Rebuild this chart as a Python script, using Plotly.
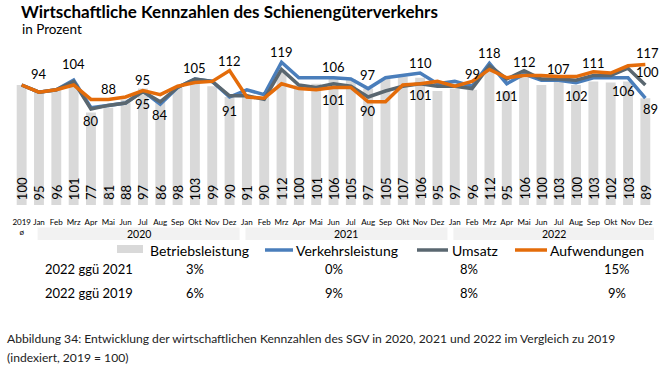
import plotly.graph_objects as go

# ---------------- data ----------------
months = ["Jan", "Feb", "Mrz", "Apr", "Mai", "Jun", "Jul", "Aug", "Sep", "Okt", "Nov", "Dez"]
tick_labels = ["2019<br>ø"] + months * 3
years = ["2020", "2021", "2022"]

betriebsleistung = [100,
                    95, 96, 101, 77, 81, 88, 97, 86, 98, 103, 99, 90,
                    91, 90, 112, 100, 101, 106, 105, 97, 105, 107, 106, 95,
                    97, 96, 112, 95, 106, 100, 103, 100, 103, 102, 103, 89]

verkehrsleistung = [100,
                    94, 96, 104, 81, 83, 85, 95, 84, 98, 105, 103, 90,
                    96, 92, 119, 106, 106, 106, 105, 97, 106, 108, 110, 101,
                    103, 99, 118, 101, 109, 104, 104, 102, 106, 106, 106, 89]

umsatz = [100,
          94, 96, 103, 80, 83, 85, 94.6, 86, 98, 105, 103, 91,
          91, 88, 113, 100, 98, 101, 99, 90, 95, 99, 101, 99,
          99, 97, 116, 105, 112, 105, 105, 104, 108, 108, 114, 100]

aufwendungen = [100,
                94, 96, 100, 88, 88, 90, 95.4, 92, 99, 102, 103, 112,
                90, 89, 101, 97, 96, 98, 98, 86, 86, 100, 101, 103,
                99, 103, 113, 106, 108, 108, 107, 107, 111, 110, 116, 117]

series_names = ["Betriebsleistung", "Verkehrsleistung", "Umsatz", "Aufwendungen"]
row_labels = ["2022 ggü 2021", "2022 ggü 2019"]
row_2022_vs_2021 = ["3%", "0%", "8%", "15%"]
row_2022_vs_2019 = ["6%", "9%", "8%", "9%"]

title = "Wirtschaftliche Kennzahlen des Schienengüterverkehrs"
subtitle = "in Prozent"
caption1 = "Abbildung 34: Entwicklung der wirtschaftlichen Kennzahlen des SGV in 2020, 2021 und 2022 im Vergleich zu 2019"
caption2 = "(indexiert, 2019 = 100)"

# labelled line points: (series, index, pixel offset: negative = above, positive = below, xshift)
line_labels = [
    ("V", 1, -18, 0), ("V", 3, -16, 0), ("U", 4, 12, 0), ("A", 5, -10, 0),
    ("A", 7, -11, 0), ("U", 7, 13, 0), ("V", 8, 11, 0), ("U", 10, -11, 0),
    ("A", 12, -10, 0), ("U", 12, 15, 0), ("V", 15, -10, 0), ("V", 18, -11, 0),
    ("U", 18, 16, 0), ("V", 20, -14, 0), ("U", 20, 14, 0), ("V", 23, -10, 0),
    ("U", 23, 11, 0), ("V", 26, -12, 0), ("V", 27, -10, 0), ("V", 28, 12, 0),
    ("U", 29, -9, 0), ("A", 31, -8, 0), ("V", 32, 13, 0), ("A", 33, -9, 0),
    ("V", 35, 13, -5), ("A", 36, -12, 2), ("U", 36, -13, 2), ("V", 36, 11, 5),
]

# ---------------- styles ----------------
FONT = "Lato, 'Open Sans', sans-serif"
C_BAR = "#D9D9D9"
C_BLUE = "#4A7EBB"
C_GRAY = "#5A6770"
C_ORANGE = "#E46C0A"
LW = 3.5

W, H = 666, 372
ML, MR, MT, MB = 13, 12, 37, 167
PW, PH = W - ML - MR, H - MT - MB


def xp(px):
    return (px - ML) / PW


def yp(py):
    return (H - MB - py) / PH


x = list(range(len(tick_labels)))
series = {"V": verkehrsleistung, "U": umsatz, "A": aufwendungen}

fig = go.Figure()
fig.add_trace(go.Bar(x=x, y=betriebsleistung, name=series_names[0], marker_color=C_BAR,
                     marker_line_width=0, hoverinfo="skip"))
fig.add_trace(go.Scatter(x=x, y=verkehrsleistung, name=series_names[1], mode="lines",
                         line=dict(color=C_BLUE, width=LW)))
fig.add_trace(go.Scatter(x=x, y=umsatz, name=series_names[2], mode="lines",
                         line=dict(color=C_GRAY, width=LW)))
fig.add_trace(go.Scatter(x=x, y=aufwendungen, name=series_names[3], mode="lines",
                         line=dict(color=C_ORANGE, width=LW)))

ann = []
# bar value labels (rotated, at the bar base)
for i, v in enumerate(betriebsleistung):
    ann.append(dict(x=i, y=0, xref="x", yref="y", text=str(v), showarrow=False,
                    textangle=-90, yanchor="bottom", xanchor="center", yshift=3,
                    font=dict(family=FONT, size=13, color="#000")))
# line labels
for key, i, off, xs in line_labels:
    v = series[key][i]
    ann.append(dict(x=i, y=v, xref="x", yref="y", text=str(round(v)), showarrow=False,
                    yanchor="middle", xanchor="center",
                    yshift=-off, xshift=xs, font=dict(family=FONT, size=13, color="#000")))

shapes = []
# year group bands
for k, yr in enumerate(years):
    a = 1 + 12 * k
    b = a + 11
    x0b, x1b = a - 0.08, b + 0.58
    shapes.append(dict(type="rect", xref="x", yref="paper", x0=x0b, x1=x1b,
                       y0=yp(240), y1=yp(227.5), fillcolor="#F2F2F2", line_width=0, layer="below"))
    ann.append(dict(x=(x0b + x1b) / 2, y=yp(234), xref="x", yref="paper", text=yr, showarrow=False,
                    xanchor="center", yanchor="middle",
                    font=dict(family=FONT, size=10.5, color="#000")))

# legend (manual)
LY = 250
shapes.append(dict(type="rect", xref="paper", yref="paper", x0=xp(117), x1=xp(143),
                   y0=yp(253), y1=yp(245), fillcolor=C_BAR, line_width=0))
for (x0, x1, col) in [(265, 293, C_BLUE), (417, 448, C_GRAY), (515, 547, C_ORANGE)]:
    shapes.append(dict(type="line", xref="paper", yref="paper", x0=xp(x0), x1=xp(x1),
                       y0=yp(LY), y1=yp(LY), line=dict(color=col, width=LW)))
for name, px in zip(series_names, [148, 294, 450, 548]):
    ann.append(dict(x=xp(px), y=yp(LY), xref="paper", yref="paper", text=name, showarrow=False,
                    xanchor="left", yanchor="middle", font=dict(family=FONT, size=14, color="#000")))

# table
col_x = [195, 334, 469, 617]
for row_y, lab, vals in [(269, row_labels[0], row_2022_vs_2021), (293, row_labels[1], row_2022_vs_2019)]:
    ann.append(dict(x=xp(43), y=yp(row_y), xref="paper", yref="paper", text=lab, showarrow=False,
                    xanchor="left", yanchor="middle", font=dict(family=FONT, size=13, color="#000")))
    for cx, val in zip(col_x, vals):
        ann.append(dict(x=xp(cx), y=yp(row_y), xref="paper", yref="paper", text=val, showarrow=False,
                        xanchor="center", yanchor="middle", font=dict(family=FONT, size=13, color="#000")))

# title, subtitle, caption
ann.append(dict(x=xp(19), y=yp(11), xref="paper", yref="paper", text="<b>" + title + "</b>",
                showarrow=False, xanchor="left", yanchor="middle",
                font=dict(family=FONT, size=17, color="#000")))
ann.append(dict(x=xp(20), y=yp(29), xref="paper", yref="paper", text=subtitle,
                showarrow=False, xanchor="left", yanchor="middle",
                font=dict(family=FONT, size=13.5, color="#000")))
ann.append(dict(x=xp(5), y=yp(338), xref="paper", yref="paper", text=caption1,
                showarrow=False, xanchor="left", yanchor="middle",
                font=dict(family=FONT, size=12.1, color="#222")))
ann.append(dict(x=xp(5), y=yp(357), xref="paper", yref="paper", text=caption2,
                showarrow=False, xanchor="left", yanchor="middle",
                font=dict(family=FONT, size=12.1, color="#222")))

fig.update_layout(
    width=W, height=H,
    margin=dict(l=ML, r=MR, t=MT, b=MB, pad=0),
    paper_bgcolor="white", plot_bgcolor="white",
    showlegend=False,
    bargap=0.43,
    font=dict(family=FONT, color="#000"),
    xaxis=dict(range=[-0.5, len(x) - 0.5], tickmode="array", tickvals=x, ticktext=tick_labels,
               tickangle=0, tickfont=dict(family=FONT, size=8, color="#000"),
               ticks="outside", ticklen=9, tickcolor="rgba(0,0,0,0)",
               showgrid=False, zeroline=False, showline=False, fixedrange=True),
    yaxis=dict(range=[0, 140], visible=False, fixedrange=True),
    annotations=ann,
    shapes=shapes,
)

fig.write_html("out.html", config={"displayModeBar": False},
               post_script="document.body.style.margin='0';document.body.style.overflow='hidden';")
